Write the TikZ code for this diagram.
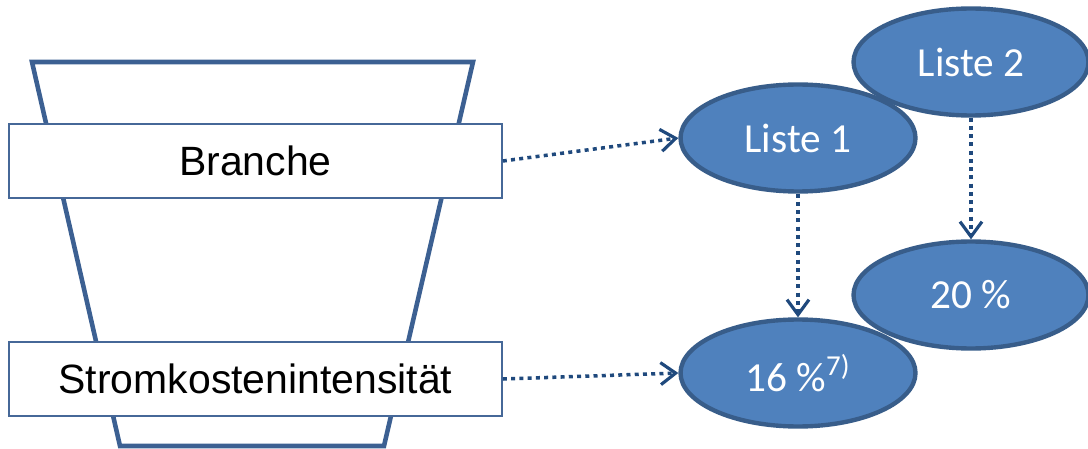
\documentclass[tikz,border=0pt]{standalone}
\usepackage{fontspec}
\setmainfont{Liberation Sans}
\newfontfamily\calibri{Carlito}
\definecolor{ovalfill}{RGB}{79, 129, 189}
\definecolor{ovalline}{RGB}{56, 93, 138}
\definecolor{funnelline}{RGB}{60, 96, 146}
\definecolor{boxline}{RGB}{70, 104, 152}
\definecolor{arrowline}{RGB}{31, 73, 125}
\usetikzlibrary{shapes.geometric, arrows.meta}
\tikzset{
    filterbox/.style={draw=boxline, line width=1pt, fill=white,
        minimum width=9.86cm, minimum height=1.48cm, inner sep=0pt,
        font=\fontsize{23.3}{28}\selectfont},
    oval/.style={ellipse, draw=ovalline, fill=ovalfill, line width=2.5pt,
        minimum width=4.7cm, minimum height=2.14cm, inner sep=0pt,
        text=white, font=\calibri\fontsize{23.5}{28}\selectfont},
    dotarrow/.style={draw=arrowline, line width=2pt,
        dash pattern=on 0.08cm off 0.085cm,
        -{Straight Barb[length=0.3cm, width=0.44cm, line width=1.8pt]}},
}

\begin{document}
\begin{tikzpicture}[x=0.02cm, y=-0.02cm]
            \useasboundingbox (0, 0) rectangle (1088, 449);
            \draw[funnelline, line width=2.6pt, line join=miter]
                (32, 62) -- (473, 62) -- (384, 446) -- (120, 446) -- cycle;
            \node[filterbox] (branche) at (255.5, 161) {Branche};
            \node[filterbox] (strom) at (255.5, 379) {Stromkostenintensität};
            \node[oval] (liste2) at (971, 62) {Liste 2};
            \node[oval] (liste1) at (798, 138) {Liste 1};
            \node[oval] (p20) at (971, 295) {20 \%};
            \node[oval] (p16) at (798, 373) {16 \%\textsuperscript{7)}};
            \draw[dotarrow] (branche.east) -- (liste1.west);
            \draw[dotarrow] (strom.east) -- (p16.west);
            \draw[dotarrow] (liste1.south) -- (p16.north);
            \draw[dotarrow] (liste2.south) -- (p20.north);
        \end{tikzpicture}
\end{document}
